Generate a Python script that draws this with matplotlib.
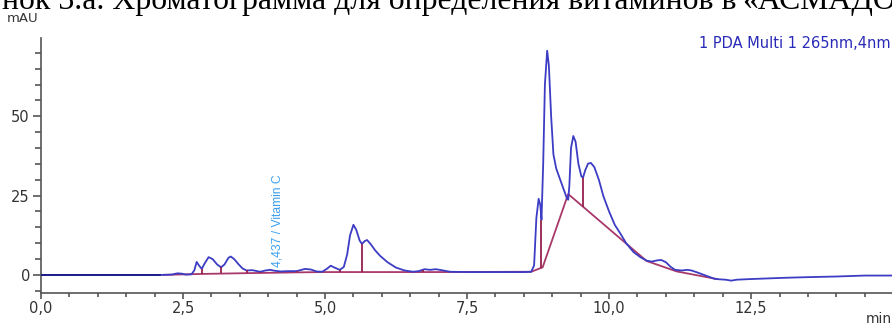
import numpy as np
import matplotlib
matplotlib.use("Agg")
import matplotlib.pyplot as plt
from matplotlib.ticker import MultipleLocator, FuncFormatter

# chromatogram trace (time in min, signal in mAU)
trace_t = [0.00, 2.10, 2.30, 2.40, 2.48, 2.55, 2.65, 2.70, 2.74, 2.78, 2.83, 2.88,
           2.95, 3.02, 3.10, 3.17, 3.23, 3.30, 3.34, 3.40, 3.48, 3.55, 3.62, 3.72,
           3.80, 3.86, 3.95, 4.03, 4.12, 4.22, 4.35, 4.50, 4.65, 4.75, 4.85, 4.95,
           5.03, 5.10, 5.18, 5.26, 5.33, 5.39, 5.44, 5.50, 5.55, 5.61, 5.65, 5.70,
           5.74, 5.80, 5.88, 5.97, 6.10, 6.25, 6.40, 6.55, 6.65, 6.75, 6.85, 6.95,
           7.05, 7.20, 7.50, 8.00, 8.50, 8.63, 8.68, 8.72, 8.76, 8.79, 8.81, 8.84,
           8.87, 8.91, 8.94, 8.98, 9.02, 9.07, 9.13, 9.20, 9.26, 9.28, 9.30, 9.33,
           9.37, 9.41, 9.46, 9.51, 9.54, 9.58, 9.63, 9.68, 9.74, 9.82, 9.90, 10.00,
           10.10, 10.20, 10.30, 10.43, 10.55, 10.66, 10.75, 10.85, 10.92, 11.00, 11.08, 11.16,
           11.28, 11.38, 11.45, 11.55, 11.70, 11.85, 11.95, 12.05, 12.15, 12.25, 12.50, 12.80,
           13.10, 13.50, 14.00, 14.50, 15.00]
trace_mau = [0.0, 0.0, 0.1, 0.5, 0.4, 0.1, 0.2, 1.5, 4.1, 3.0, 1.9, 3.6,
             5.6, 5.0, 3.3, 2.4, 3.3, 5.4, 5.8, 5.0, 3.3, 2.0, 1.4, 1.5,
             1.2, 1.0, 1.4, 1.6, 1.3, 1.1, 1.2, 1.2, 1.9, 1.7, 1.1, 1.0,
             1.9, 2.9, 2.2, 1.6, 2.5, 6.5, 12.5, 15.8, 14.2, 10.8, 9.8, 10.7,
             11.0, 9.8, 7.8, 6.0, 4.0, 2.3, 1.4, 1.0, 1.2, 1.8, 1.6, 1.8,
             1.5, 1.0, 0.9, 0.9, 0.9, 1.0, 3.0, 18.0, 24.0, 22.0, 17.4, 35.0,
             60.0, 70.7, 66.0, 50.0, 38.0, 33.5, 30.5, 27.0, 24.0, 23.7, 28.0, 40.0,
             43.8, 42.0, 35.0, 31.2, 30.6, 33.0, 35.1, 35.3, 34.0, 30.0, 24.8, 20.0,
             15.8, 13.0, 10.0, 7.2, 5.6, 4.5, 4.2, 4.6, 4.7, 4.0, 2.6, 1.6,
             1.4, 1.6, 1.4, 0.8, -0.2, -1.2, -1.4, -1.5, -1.8, -1.5, -1.3, -1.1,
             -0.9, -0.7, -0.5, -0.2, -0.2]

# integration baseline
base_t = [2.15, 2.80, 3.60, 4.50, 5.00, 5.65, 7.00, 8.63, 8.83, 9.28, 10.66, 11.19, 11.90]
base_mau = [0.0, 0.3, 0.55, 0.8, 0.9, 0.9, 0.9, 1.0, 2.4, 25.5, 4.4, 1.1, -1.3]

# peak drop lines: time, bottom (baseline), top (signal)
drop_t = [2.83, 3.17, 3.62, 3.86, 4.50, 5.26, 5.65, 6.72, 8.81, 9.54]
drop_lo = [0.3, 0.45, 0.55, 0.6, 0.8, 0.9, 0.9, 0.9, 2.2, 21.5]
drop_hi = [1.9, 2.4, 1.4, 1.0, 1.2, 1.6, 9.8, 1.6, 17.4, 30.6]

label_t = 4.17
label_text = "4,437 / Vitamin C"

caption_left = "нок 3.а. Хроматограмма для определения витаминов в"
caption_right = "«АСМАДОЛ»"

fig = plt.figure(figsize=(8.92, 3.23), dpi=100)
ax = fig.add_axes([41 / 892, 1 - 293 / 323, 1 - 41 / 892, (293 - 38) / 323])

tt = np.array(trace_t)
yy = np.array(trace_mau)
ax.plot(base_t, base_mau, color="#a8386a", lw=1.3, zorder=2)
ax.plot(tt, yy, color="#3c3cc4", lw=1.3, zorder=3)
pre = tt <= 2.15
ax.plot(tt[pre], yy[pre], color="#1c1c86", lw=1.3, zorder=4)
ax.vlines(drop_t, drop_lo, drop_hi, color="#96204e", lw=1.3, zorder=4)

ax.text(label_t, 2.4, label_text, rotation=90, ha="center", va="bottom",
        color="#3ca0f0", fontsize=8.7, family=["Liberation Sans", "DejaVu Sans"])

ax.set_xlim(0, 14.98)
ax.set_ylim(-5.7, 74.7)

for s in ["top", "right"]:
    ax.spines[s].set_visible(False)
for s in ["left", "bottom"]:
    ax.spines[s].set_color("#555555")
    ax.spines[s].set_linewidth(1.2)

ax.xaxis.set_major_locator(MultipleLocator(2.5))
ax.xaxis.set_minor_locator(MultipleLocator(0.5))
ax.yaxis.set_major_locator(MultipleLocator(25))
ax.yaxis.set_minor_locator(MultipleLocator(5))
ax.xaxis.set_major_formatter(FuncFormatter(lambda v, p: f"{v:.1f}".replace(".", ",")))
ax.yaxis.set_major_formatter(FuncFormatter(lambda v, p: f"{v:.0f}"))
ax.tick_params(which="both", width=1.2, color="#555555",
               labelsize=10.5, labelcolor="#333333", pad=2)
ax.tick_params(axis="x", which="major", length=4)
ax.tick_params(axis="x", which="minor", length=3)
ax.tick_params(axis="y", which="major", length=6)
ax.tick_params(axis="y", which="minor", length=4)

fig.text(7 / 892, 1 - 19 / 323, "mAU", fontsize=9.5, color="#333333", va="center")
fig.text(866 / 892, 0.0, "min", fontsize=10, color="#333333", va="baseline")
fig.text(699 / 892, 1 - 44 / 323, "1 PDA Multi 1 265nm,4nm", fontsize=10.5,
         color="#2a2ab8", va="center")

# cropped caption above the chart: left part ends just before the quote mark
serif = ["Liberation Serif", "DejaVu Serif"]
cap_y = 1 - 9 / 323
cap_l = fig.text(736 / 892, cap_y, caption_left, fontsize=22.4, family=serif,
                 ha="right", va="baseline")
renderer = fig.canvas.get_renderer()
w = cap_l.get_window_extent(renderer).width
size = 22.4 * 735 / w
cap_l.set_fontsize(size)
fig.text(742 / 892, cap_y, caption_right, fontsize=size, family=serif,
         ha="left", va="baseline")

fig.savefig("out.png", dpi=100)
